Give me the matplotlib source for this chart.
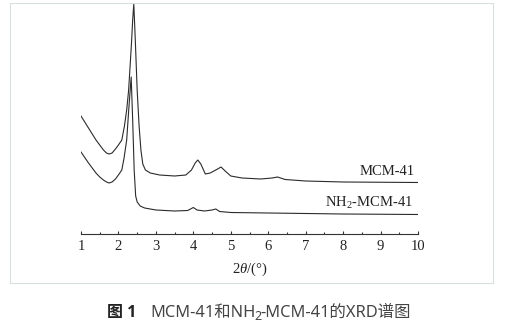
import numpy as np
import matplotlib
matplotlib.use("Agg")
import matplotlib.pyplot as plt
from matplotlib.patches import Rectangle
from matplotlib.ticker import MultipleLocator

plt.rcParams["mathtext.fontset"] = "custom"
plt.rcParams["mathtext.it"] = "Liberation Serif:italic"
plt.rcParams["mathtext.rm"] = "Liberation Serif"

# 2theta (deg) and relative intensity (a.u.) for both samples
two_theta_mcm = [1.0, 1.2, 1.4, 1.5, 1.6, 1.68, 1.75, 1.83, 1.92, 2.0, 2.09, 2.16,
                 2.22, 2.27, 2.31, 2.35, 2.38, 2.41, 2.45, 2.5, 2.55, 2.6, 2.65,
                 2.72, 2.85, 3.1, 3.5, 3.8, 3.95, 4.05, 4.12, 4.2, 4.32, 4.45,
                 4.6, 4.74, 4.85, 5.0, 5.3, 5.8, 6.1, 6.25, 6.45, 7.0, 8.0, 10.0]
intensity_mcm = [118, 106, 94, 89, 84, 81, 80, 81, 85, 89, 94, 108,
                 124, 143, 167, 192, 214, 230, 194, 144, 109, 84, 70,
                 64, 61, 59, 58, 59, 64, 71, 74, 70, 60, 61,
                 64, 67, 63, 58, 56, 55, 56, 57, 54.5, 53, 52, 51.5]

two_theta_nh2 = [1.0, 1.2, 1.4, 1.5, 1.6, 1.68, 1.75, 1.83, 1.92, 2.0, 2.09, 2.15,
                 2.22, 2.28, 2.34, 2.38, 2.42, 2.46, 2.5, 2.58, 2.7, 3.0, 3.5,
                 3.85, 4.0, 4.1, 4.3, 4.5, 4.6, 4.7, 5.0, 6.0, 8.0, 10.0]
intensity_nh2 = [82, 71, 61, 57, 54, 52, 51, 52, 55, 59, 64, 76,
                 94, 127, 157, 114, 64, 38, 32, 28, 26, 24, 23,
                 23.5, 26.5, 24, 23, 24, 25, 22.5, 21.5, 21, 20, 19.5]

x_ticks = [1, 2, 3, 4, 5, 6, 7, 8, 9, 10]

W, H = 520, 324
fig = plt.figure(figsize=(W / 100, H / 100), dpi=100)
ax = fig.add_axes([81 / W, (H - 234) / H, (418 - 81) / W, 234 / H])

line_kw = dict(color="#2b2b2b", linewidth=0.8)
ax.plot(two_theta_mcm, intensity_mcm, **line_kw)
ax.plot(two_theta_nh2, intensity_nh2, **line_kw)

ax.set_xlim(1, 10)
ax.set_ylim(0, 234)
for side in ("left", "right", "top"):
    ax.spines[side].set_visible(False)
ax.spines["bottom"].set_color("#333333")
ax.spines["bottom"].set_linewidth(0.8)
ax.set_yticks([])
ax.set_xticks(x_ticks)
ax.xaxis.set_minor_locator(MultipleLocator(0.5))
ax.tick_params(axis="x", which="major", direction="in", length=2.5, width=0.8,
               color="#333333", pad=4.5)
ax.tick_params(axis="x", which="minor", direction="in", length=1.3, width=0.8,
               color="#333333")
for lab in ax.get_xticklabels():
    lab.set_fontfamily("Liberation Serif")
    lab.set_fontsize(10.5)
    lab.set_color("#222222")

ax.set_xlabel(r"2$\mathit{\theta}$/(°)", fontfamily="Liberation Serif", fontsize=10.5,
              color="#222222", labelpad=5)

ax.text(9.92, 59, "MCM-41", ha="right", va="baseline",
        fontfamily="Liberation Serif", fontsize=10.5, color="#222222")
ax.text(9.87, 27, r"NH$_2$-MCM-41", ha="right", va="baseline",
        fontfamily="Liberation Serif", fontsize=10.5, color="#222222")

# light frame around the chart panel
fig.add_artist(Rectangle((10 / W, (H - 283) / H), 483 / W, 280 / H,
                         transform=fig.transFigure, fill=False,
                         edgecolor="#d9dede", linewidth=0.8))

# caption, built piece by piece so the subscript sits right
latin = ["Noto Sans", "Noto Sans CJK SC"]
pieces = [("图 1", ["Open Sans", "Noto Sans CJK SC"], "bold", 0, "#222222", 11.5, None),
          ("MCM-41和NH", latin, "normal", 0, "#444444", 11.8, -1),
          ("2", latin, "normal", -2.5, "#444444", 9, -1),
          ("-MCM-41的XRD谱图", latin, "normal", 0, "#444444", 11.8, 0)]
fig.canvas.draw()
renderer = fig.canvas.get_renderer()
x = 107
base_y = H - 317
for txt, fam, weight, dy, col, fs, gap in pieces:
    t = fig.text(x / W, (base_y + dy) / H, txt, family=fam, fontsize=fs,
                 fontweight=weight, color=col, va="baseline", ha="left")
    x = 150 if gap is None else x + t.get_window_extent(renderer).width + gap

fig.savefig("out.png", dpi=100)
